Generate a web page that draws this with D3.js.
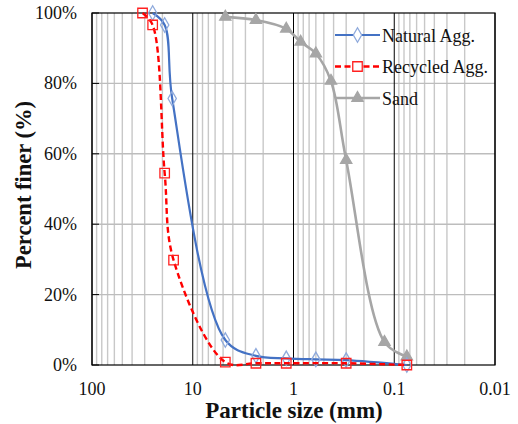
<!DOCTYPE html>
<html><head><meta charset="utf-8">
<script src="https://cdn.jsdelivr.net/npm/d3@7"></script>
<style>body{margin:0;background:#fff}svg{display:block}</style>
</head><body>
<svg id="c" width="518" height="424"></svg>
<script>
const naturalSize = [25, 19, 16, 4.75, 2.36, 1.18, 0.6, 0.3, 0.075];
const naturalPct  = [100, 96.6, 75.7, 7.1, 2.6, 1.9, 1.6, 1.4, 0];
const recycledSize = [31.5, 25, 19, 15.5, 4.75, 2.36, 1.18, 0.3, 0.075];
const recycledPct  = [100, 96.6, 54.5, 29.8, 0.8, 0.5, 0.5, 0.5, 0];
const sandSize = [4.75, 2.36, 1.18, 0.85, 0.6, 0.425, 0.3, 0.125, 0.075];
const sandPct  = [98.9, 98, 95.5, 91.8, 88.5, 80.7, 58.2, 6.5, 2.4];
const xTicks = [100, 10, 1, 0.1, 0.01];
const xTickLabels = ["100", "10", "1", "0.1", "0.01"];
const yTicks = [0, 20, 40, 60, 80, 100];
const seriesNames = ["Natural Agg.", "Recycled Agg.", "Sand"];

const svg = d3.select("#c");
const L = 92, R = 495, T = 13, B = 365;
const x = d3.scaleLog().domain([100, 0.01]).range([L, R]);
const y = d3.scaleLinear().domain([0, 100]).range([B, T]);
const font = "'Liberation Serif','Times New Roman',serif";

// minor vertical gridlines
const minor = [];
for (let e = -2; e < 2; e++) for (let m = 2; m <= 9; m++) minor.push(m * Math.pow(10, e));
svg.append("g").selectAll("line").data(minor).join("line")
  .attr("x1", d => x(d)).attr("x2", d => x(d)).attr("y1", T).attr("y2", B)
  .attr("stroke", "#c8c8c8").attr("stroke-width", 1.4);
// horizontal gridlines
svg.append("g").selectAll("line").data(yTicks.slice(1, -1)).join("line")
  .attr("x1", L).attr("x2", R).attr("y1", d => y(d)).attr("y2", d => y(d))
  .attr("stroke", "#bdbdbd").attr("stroke-width", 1.4);
// major vertical lines
svg.append("g").selectAll("line").data(xTicks).join("line")
  .attr("x1", d => x(d)).attr("x2", d => x(d)).attr("y1", T).attr("y2", B)
  .attr("stroke", "#000").attr("stroke-width", 1);
// y ticks (inward)
svg.append("g").selectAll("line").data(yTicks).join("line")
  .attr("x1", L).attr("x2", L + 7).attr("y1", d => y(d)).attr("y2", d => y(d))
  .attr("stroke", "#000").attr("stroke-width", 1);
// border
svg.append("rect").attr("x", L).attr("y", T).attr("width", R - L).attr("height", B - T)
  .attr("fill", "none").attr("stroke", "#000").attr("stroke-width", 1.2);

// tick labels
svg.append("g").selectAll("text").data(xTicks).join("text")
  .attr("x", d => x(d)).attr("y", 395).attr("text-anchor", "middle")
  .attr("font-family", font).attr("font-size", 18).attr("fill", "#111")
  .text((d, i) => xTickLabels[i]);
svg.append("g").selectAll("text").data(yTicks).join("text")
  .attr("x", 77).attr("y", d => y(d) + 6).attr("text-anchor", "end")
  .attr("font-family", font).attr("font-size", 18).attr("fill", "#111")
  .text(d => d + "%");

// titles
svg.append("text").attr("x", 294).attr("y", 418).attr("text-anchor", "middle")
  .attr("font-family", font).attr("font-size", 23).attr("font-weight", "bold").attr("fill", "#111")
  .text("Particle size (mm)");
svg.append("text").attr("transform", "translate(31,185) rotate(-90)").attr("text-anchor", "middle")
  .attr("font-family", font).attr("font-size", 22.5).attr("font-weight", "bold").attr("fill", "#111")
  .text("Percent finer (%)");

const line = d3.line().x(d => x(d[0])).y(d => y(d[1])).curve(d3.curveCatmullRom.alpha(0.5));
const zip = (a, b) => a.map((v, i) => [v, b[i]]);

const series = [
  {name: seriesNames[0], data: zip(naturalSize, naturalPct), stroke: "#4472C4", w: 2.2, dash: null,
   sym: d3.symbolDiamond, size: 60, mstroke: "#8FAADC", fill: "none"},
  {name: seriesNames[1], data: zip(recycledSize, recycledPct), stroke: "#FF0000", w: 2.4, dash: "6,3.5",
   sym: d3.symbolSquare, size: 90, mstroke: "#FF2020", fill: "none"},
  {name: seriesNames[2], data: zip(sandSize, sandPct), stroke: "#A6A6A6", w: 2.6, dash: null,
   sym: d3.symbolTriangle, size: 55, mstroke: "#A6A6A6", fill: "#A6A6A6"}
];

// draw order: sand, natural, recycled
[2, 0, 1].forEach(i => {
  const s = series[i];
  svg.append("path").attr("d", line(s.data)).attr("fill", "none")
    .attr("stroke", s.stroke).attr("stroke-width", s.w).attr("stroke-dasharray", s.dash);
  svg.append("g").selectAll("path").data(s.data).join("path")
    .attr("transform", d => `translate(${x(d[0])},${y(d[1])})`)
    .attr("d", d3.symbol().type(s.sym).size(s.size)())
    .attr("fill", s.fill).attr("stroke", s.mstroke).attr("stroke-width", 1.3);
});

// legend
const ly = [35, 66.5, 98];
series.forEach((s, i) => {
  const g = svg.append("g").attr("transform", `translate(0,${ly[i]})`);
  g.append("line").attr("x1", 335).attr("x2", 380).attr("y1", 0).attr("y2", 0)
    .attr("stroke", s.stroke).attr("stroke-width", s.w).attr("stroke-dasharray", s.dash);
  g.append("path").attr("transform", "translate(357.5,0)")
    .attr("d", d3.symbol().type(s.sym).size(s.size)())
    .attr("fill", s.fill === "none" ? "#fff" : s.fill).attr("stroke", s.mstroke).attr("stroke-width", 1.3);
  g.append("text").attr("x", 382).attr("y", 6.5).attr("font-family", font).attr("font-size", 18)
    .attr("fill", "#111").text(s.name);
});
</script>
</body></html>
